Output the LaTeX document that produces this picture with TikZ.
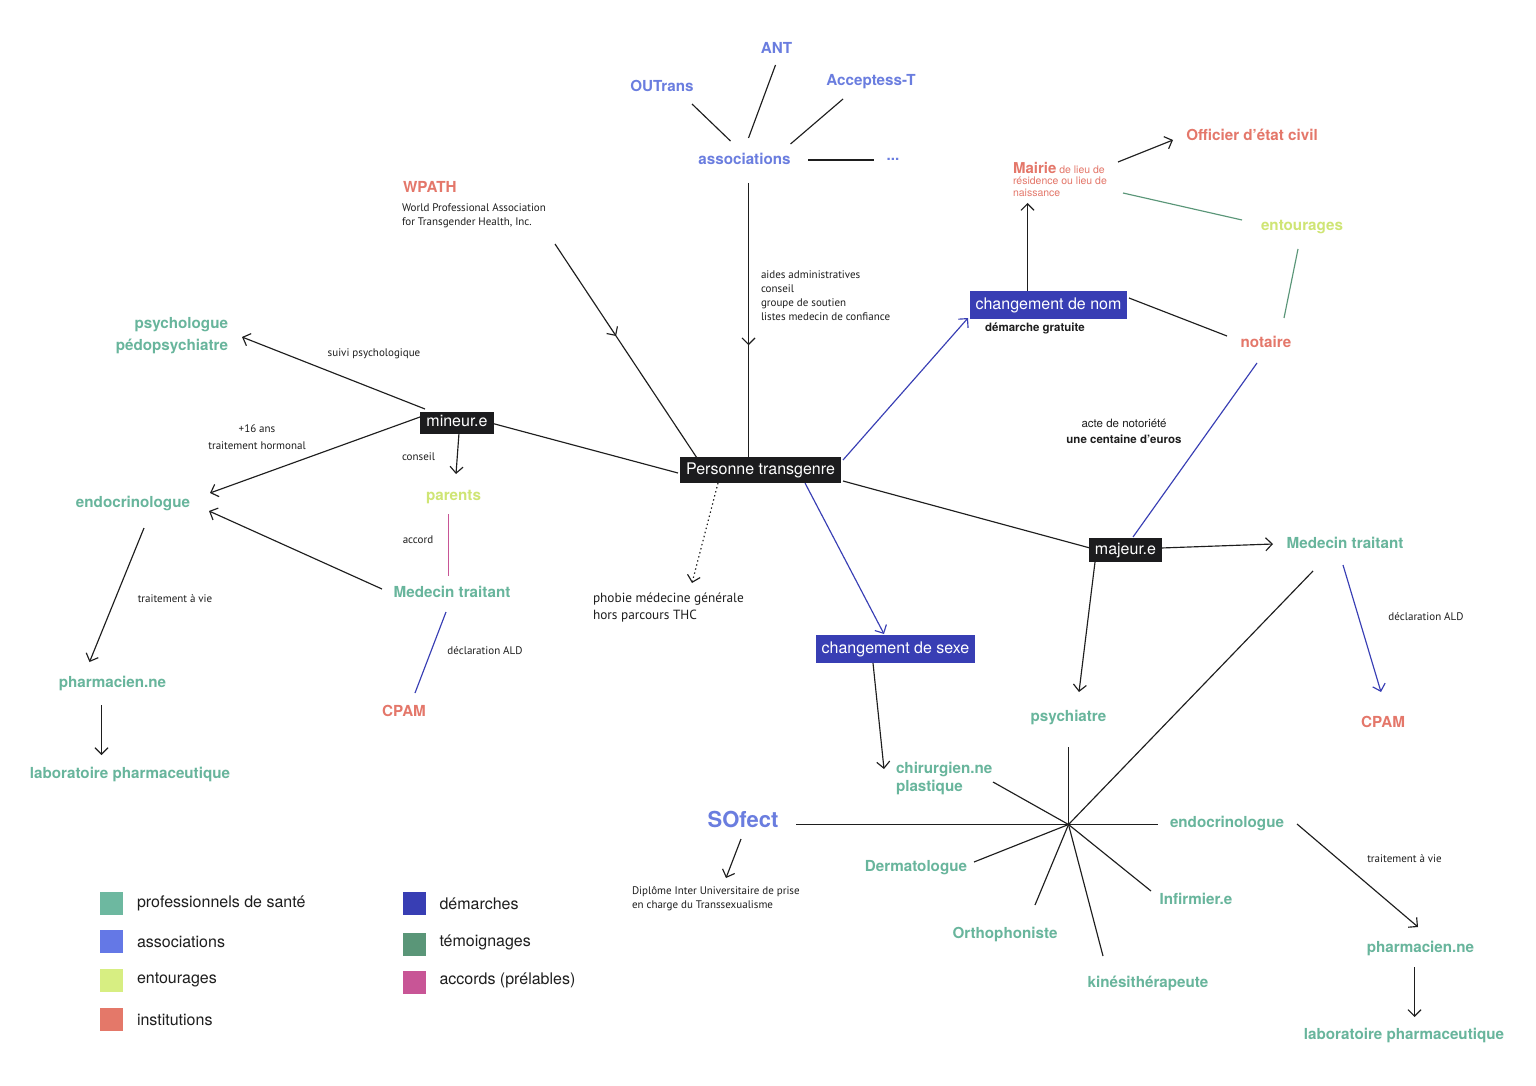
\documentclass[tikz,border=0pt]{standalone}
\usepackage{fontspec}
\setmainfont{TeX Gyre Heros}
\newfontfamily\myr{PT Sans}
\usetikzlibrary{arrows.meta,calc,decorations.markings}
\definecolor{cHealth}{HTML}{6DB8A0}
\definecolor{cAssoc}{HTML}{6478E6}
\definecolor{cEnt}{HTML}{D7EE82}
\definecolor{cInst}{HTML}{E47869}
\definecolor{cDem}{HTML}{383EB4}
\definecolor{cTem}{HTML}{5A9678}
\definecolor{cAcc}{HTML}{C85596}
\definecolor{cHealthT}{HTML}{68B59C}
\definecolor{cAssocT}{HTML}{6A7DDF}
\definecolor{cEntT}{HTML}{CFE574}
\definecolor{cInstT}{HTML}{E4776A}
\definecolor{cLine}{HTML}{1E1E1E}
\definecolor{cBox}{HTML}{1C1C1E}
\definecolor{cText}{HTML}{1E1E1E}
\pgfdeclarelayer{bg}
\pgfsetlayers{bg,main}
\tikzset{
 base/.style={inner sep=0pt, outer sep=0pt},
 lab/.style={base, font=\bfseries\fontsize{15.2}{18}\selectfont},
 hp/.style={lab, text=cHealthT},
 as/.style={lab, text=cAssocT},
 en/.style={lab, text=cEntT},
 inst/.style={lab, text=cInstT},
 note/.style={base, font=\myr\fontsize{11}{14}\selectfont, text=cText},
 smallI/.style={base, font=\fontsize{11.5}{16}\selectfont, text=cText},
 box/.style={base, fill=cBox, text=white, font=\fontsize{16}{18}\selectfont, inner xsep=6pt, text height=11.5pt, text depth=3.5pt},
 ln/.style={line width=1.15pt, draw=cLine},
 arr/.style={ln, -{Straight Barb[length=6.5pt,width=13pt,line width=1.15pt]}},
 midarr/.style={postaction={decorate, decoration={markings, mark=at position #1 with {\arrow{Straight Barb[length=6.5pt,width=13pt,line width=1.15pt]}}}}},
 sq/.style={base, minimum size=23pt},
 leg/.style={base, font=\fontsize{16}{18}\selectfont, text=cText, anchor=west},
}
\begin{document}
\begin{tikzpicture}[x=1pt,y=-1pt]
\begin{pgfonlayer}{bg}
\fill[white] (0,0) rectangle (1536,1086);
\end{pgfonlayer}
\useasboundingbox (0,0) rectangle (1536,1086);

% ---------- boxes
\node[box, minimum height=26pt] (pt) at (760.5,470) {Personne transgenre};
\node[box, minimum height=22pt] (mineur) at (457,422.5) {mineur.e};
\node[box, minimum height=24pt] (majeur) at (1125.5,550) {majeur.e};
\node[box, fill=cDem, minimum height=28pt] (cdn) at (1048.5,305) {changement de nom};
\node[box, fill=cDem, minimum height=28pt] (cds) at (895.5,649) {changement de sexe};

% ---------- top
\node[as] (ant) at (776.5,48) {ANT};
\node[as] (outrans) at (662,86) {OUTrans};
\node[as] (accept) at (871,82) {Acceptess-T};
\node[as] (assoc) at (744.5,159) {associations};
\node[as] (dots) at (893,159.5) {...};
\node[inst, anchor=west] (wpath) at (403,187) {WPATH};
\node[note, anchor=west, align=left] (wpathsub) at (402,215.5) {World Professional Association\\for Transgender Health, Inc.};
\node[note, anchor=west, align=left] (aides) at (761,296) {aides administratives\\conseil\\groupe de soutien\\listes medecin de confiance};
\node[smallI, font=\bfseries\fontsize{11.5}{14}\selectfont] (gratuite) at (1035,328) {démarche gratuite};
\node[base, anchor=north west, align=left, text=cInstT, font=\fontsize{10.5}{11.5}\selectfont] (mairie) at (1013,162) {{\bfseries\fontsize{15}{11.5}\selectfont Mairie} de lieu de\\résidence ou lieu de\\naissance};
\node[inst] (officier) at (1252,135) {Officier d’état civil};
\node[en] (entour) at (1302,227) {entourages};
\node[inst] (notaire) at (1266,342) {notaire};
\node[smallI, align=center] (acte) at (1124,431) {acte de notoriété\\\textbf{une centaine d’euros}};

% ---------- right
\node[hp] (mtR) at (1345,543) {Medecin traitant};
\node[hp] (psychiatre) at (1068.5,717) {psychiatre};
\node[inst] (cpamR) at (1383,722) {CPAM};
\node[note] (aldR) at (1426,617) {déclaration ALD};
\coordinate (star) at (1068.5,824.5);
\node[hp, anchor=west, align=left] (chir) at (896,778) {chirurgien.ne\\plastique};
\node[as, font=\bfseries\fontsize{22}{24}\selectfont] (sofect) at (743,819) {SOfect};
\node[note, anchor=west, align=left] (diplome) at (632,898.5) {Diplôme Inter Universitaire de prise\\en charge du Transsexualisme};
\node[hp] (endoR) at (1227,823) {endocrinologue};
\node[hp] (derma) at (916,868) {Dermatologue};
\node[hp] (ortho) at (1005,934) {Orthophoniste};
\node[hp] (kine) at (1148,983) {kinésithérapeute};
\node[hp] (infirm) at (1196,899) {Infirmier.e};
\node[note] (vieR) at (1404.5,859) {traitement à vie};
\node[hp] (pharmR) at (1420.5,948) {pharmacien.ne};
\node[hp] (laboR) at (1404,1035) {laboratoire pharmaceutique};

% ---------- left
\node[hp, anchor=east, align=right, font=\bfseries\fontsize{15.2}{22}\selectfont] (psycho) at (228,336) {psychologue\\pédopsychiatre};
\node[note] (suivi) at (374,354) {suivi psychologique};
\node[note, align=center, font=\myr\fontsize{11}{17}\selectfont] (seize) at (257,437) {+16 ans\\traitement hormonal};
\node[hp] (endoL) at (133,503) {endocrinologue};
\node[note] (conseil) at (418.5,457) {conseil};
\node[en] (parents) at (453.5,497) {parents};
\node[note] (accord) at (418,540) {accord};
\node[hp] (mtL) at (452,592) {Medecin traitant};
\node[note] (aldL) at (485,651) {déclaration ALD};
\node[inst] (cpamL) at (404,711) {CPAM};
\node[note] (vieL) at (175,599) {traitement à vie};
\node[hp] (pharmL) at (112.5,683) {pharmacien.ne};
\node[hp] (laboL) at (130,774) {laboratoire pharmaceutique};
\node[note, anchor=west, align=left, font=\myr\fontsize{13.3}{17}\selectfont] (phobie) at (593,608) {phobie médecine générale\\hors parcours THC};

% ---------- legend
\node[sq, fill=cHealth] (k1) at (111.5,903.5) {};
\node[leg] (t1) at ($(k1.east)+(14,0)$) {professionnels de santé};
\node[sq, fill=cAssoc] (k2) at (111.5,941.5) {};
\node[leg] (t2) at ($(k2.east)+(14,0)$) {associations};
\node[sq, fill=cEnt] (k3) at (111.5,980) {};
\node[leg] (t3) at ($(k3.east)+(14,0)$) {entourages};
\node[sq, fill=cInst] (k4) at (111.5,1019.5) {};
\node[leg] (t4) at ($(k4.east)+(14,0)$) {institutions};
\node[sq, fill=cDem] (k5) at (414,903.5) {};
\node[leg] (t5) at ($(k5.east)+(14,0)$) {démarches};
\node[sq, fill=cTem] (k6) at (414,944) {};
\node[leg] (t6) at ($(k6.east)+(14,-2)$) {témoignages};
\node[sq, fill=cAcc] (k7) at (414,982.5) {};
\node[leg] (t7) at ($(k7.east)+(14,-2)$) {accords (prélables)};

% ---------- connectors
\begin{pgfonlayer}{bg}
\draw[ln] ($(outrans)+(30,18)$) -- ($(assoc)+(-14,-18)$);
\draw[ln] ($(ant)+(-1,17)$) -- ($(assoc)+(4,-21)$);
\draw[ln] ($(accept)+(-28,17)$) -- ($(assoc)+(46,-15)$);
\draw[ln] ($(assoc)+(63.5,1)$) -- ($(dots)+(-19,0.5)$);
\draw[ln, midarr=0.59] ($(assoc)+(4,24)$) -- ($(pt)+(-12,-12)$);
\draw[ln, midarr=0.43] ($(wpathsub.west)+(153,28.5)$) -- ($(pt)+(-63.5,-12)$);

\draw[ln] ($(pt)+(-82.5,3)$) -- ($(mineur)+(34,0.5)$);
\draw[ln] ($(pt)+(82.5,11)$) -- ($(majeur)+(-35.5,-2)$);
\draw[arr, draw=cDem] ($(pt)+(82.5,-10)$) -- ($(cdn)+(-80.5,13)$);
\draw[arr, draw=cDem] ($(pt)+(44.5,13)$) -- ($(cds)+(-11.5,-15)$);
\draw[arr, dash pattern=on 1.4pt off 2.8pt] ($(pt)+(-42.5,13)$) -- ($(phobie.west)+(99,-25)$);

\draw[arr] ($(mineur)+(-32,-13.5)$) -- ($(psycho.east)+(14,1)$);
\draw[arr] ($(mineur)+(-37,-5.5)$) -- ($(endoL)+(77,-10)$);
\draw[arr] ($(mineur)+(2,10.5)$) -- ($(parents)+(2.5,-23)$);
\draw[ln, draw=cAcc] ($(parents)+(-5,17)$) -- ($(mtL)+(-3.5,-16)$);
\draw[arr] ($(mtL)+(-70,-3)$) -- ($(endoL)+(76,8)$);
\draw[ln, draw=cDem] ($(mtL)+(-6,20)$) -- ($(cpamL)+(11,-18)$);
\draw[arr] ($(endoL)+(11,25)$) -- ($(pharmL)+(-23,-21)$);
\draw[arr] ($(pharmL)+(-11,22)$) -- ($(laboL)+(-28.5,-19)$);

\draw[arr] ($(cdn)+(-21,-14)$) -- ($(mairie.north west)+(14.5,41)$);
\draw[arr] ($(mairie.north west)+(105,0)$) -- ($(officier)+(-79,5)$);
\draw[ln, draw=cTem] ($(mairie.north west)+(110,31)$) -- ($(entour)+(-60,-7)$);
\draw[ln, draw=cTem] ($(entour)+(-4,22)$) -- ($(notaire)+(18,-24)$);
\draw[ln] ($(cdn)+(80.5,-7)$) -- ($(notaire)+(-39,-6)$);
\draw[ln, draw=cDem] ($(notaire)+(-9,21)$) -- ($(majeur)+(7.5,-13)$);
\draw[arr] ($(majeur)+(35.5,-2)$) -- ($(mtR)+(-72,1)$);
\draw[arr] ($(majeur)+(-30.5,12)$) -- ($(psychiatre)+(10.5,-25)$);
\draw[arr, draw=cDem] ($(mtR)+(-2,22)$) -- ($(cpamR)+(-2,-30)$);
\draw[ln] ($(mtR)+(-32,28)$) -- (star);
\draw[ln] ($(psychiatre)+(0,30)$) -- (star);
\draw[arr] ($(cds)+(-22.5,14)$) -- ($(chir.west)+(-12,-9)$);
\draw[ln] (star) -- ($(chir.west)+(97,4)$);
\draw[ln] (star) -- ($(sofect)+(53,5.5)$);
\draw[ln] (star) -- ($(endoR)+(-69,1.5)$);
\draw[ln] (star) -- ($(derma)+(58,-6)$);
\draw[ln] (star) -- ($(ortho)+(30,-29)$);
\draw[ln] (star) -- ($(kine)+(-45,-27)$);
\draw[ln] (star) -- ($(infirm)+(-45,-8)$);
\draw[arr] ($(sofect)+(-2,20)$) -- ($(diplome.west)+(94,-20.5)$);
\draw[arr] ($(endoR)+(70,1)$) -- ($(pharmR)+(-2.5,-21)$);
\draw[arr] ($(pharmR)+(-6,19)$) -- ($(laboR)+(10.5,-18)$);
\end{pgfonlayer}
\end{tikzpicture}
\end{document}
